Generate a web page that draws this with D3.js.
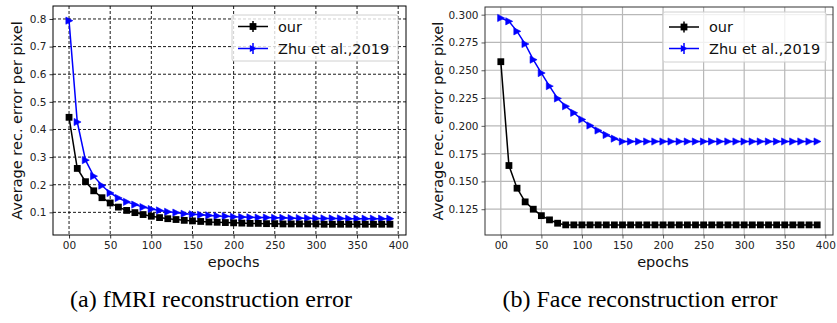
<!DOCTYPE html>
<html><head><meta charset="utf-8">
<script src="https://cdn.jsdelivr.net/npm/d3@7"></script>
<style>
html,body{margin:0;padding:0;background:#fff;}
svg{display:block;}
text{font-family:"DejaVu Sans",sans-serif;}
.cap{font-family:"Liberation Serif","Times New Roman",serif;}
</style></head>
<body>
<svg id="c" width="837" height="323"></svg>
<script>
const epochs = d3.range(0, 400, 10);
const xTicks = [0, 50, 100, 150, 200, 250, 300, 350, 400];
const xTickLabels = ["00", "50", "100", "150", "200", "250", "300", "350", "400"];

// (a) fMRI
const fmriOur = [0.444, 0.259, 0.211, 0.178, 0.153, 0.134, 0.119, 0.107, 0.099, 0.092,
  0.086, 0.081, 0.077, 0.074, 0.071, 0.069, 0.067, 0.065, 0.064, 0.063,
  0.062, 0.061, 0.060, 0.060, 0.059, 0.059, 0.058, 0.058, 0.058, 0.058,
  0.058, 0.057, 0.057, 0.057, 0.057, 0.057, 0.057, 0.057, 0.057, 0.057];
const fmriZhu = [0.794, 0.427, 0.289, 0.231, 0.197, 0.170, 0.152, 0.138, 0.128, 0.119,
  0.112, 0.107, 0.102, 0.099, 0.095, 0.093, 0.091, 0.089, 0.087, 0.086,
  0.084, 0.083, 0.082, 0.081, 0.081, 0.080, 0.080, 0.079, 0.079, 0.079,
  0.078, 0.078, 0.078, 0.078, 0.077, 0.077, 0.077, 0.077, 0.077, 0.077];
const fmriYTicks = [0.1, 0.2, 0.3, 0.4, 0.5, 0.6, 0.7, 0.8];
const fmriYLabels = ["0.1", "0.2", "0.3", "0.4", "0.5", "0.6", "0.7", "0.8"];

// (b) Face
const faceOur = [0.2577, 0.1643, 0.1439, 0.1316, 0.1250, 0.1192, 0.1154, 0.1124, 0.1109, 0.1109,
  0.1109, 0.1109, 0.1109, 0.1109, 0.1109, 0.1109, 0.1109, 0.1109, 0.1109, 0.1109,
  0.1109, 0.1109, 0.1109, 0.1109, 0.1109, 0.1109, 0.1109, 0.1109, 0.1109, 0.1109,
  0.1109, 0.1109, 0.1109, 0.1109, 0.1109, 0.1109, 0.1109, 0.1109, 0.1109, 0.1109];
const faceZhu = [0.2970, 0.2940, 0.2850, 0.2736, 0.2595, 0.2475, 0.2357, 0.2246, 0.2176, 0.2117,
  0.2057, 0.2003, 0.1958, 0.1918, 0.1885, 0.1859, 0.1859, 0.1859, 0.1859, 0.1859,
  0.1859, 0.1859, 0.1859, 0.1859, 0.1859, 0.1859, 0.1859, 0.1859, 0.1859, 0.1859,
  0.1859, 0.1859, 0.1859, 0.1859, 0.1859, 0.1859, 0.1859, 0.1859, 0.1859, 0.1859];
const faceYTicks = [0.125, 0.150, 0.175, 0.200, 0.225, 0.250, 0.275, 0.300];
const faceYLabels = ["0.125", "0.150", "0.175", "0.200", "0.225", "0.250", "0.275", "0.300"];

const seriesNames = ["our", "Zhu et al.,2019"];
const captions = ["(a) fMRI reconstruction error", "(b) Face reconstruction error"];
const yLabel = "Average rec. error per pixel";
const xLabel = "epochs";

const svg = d3.select("#c");

function panel(cfg) {
  const {left, right, top, bottom, yDomain, yTicks, yLabels, our, zhu, grid, legend, ylabX, spine} = cfg;
  const x = d3.scaleLinear().domain([-19.5, 409.5]).range([left, right]);
  const y = d3.scaleLinear().domain(yDomain).range([bottom, top]);
  const g = svg.append("g");

  // grid
  const gg = g.append("g");
  xTicks.forEach(t => gg.append("line").attr("x1", x(t)).attr("x2", x(t)).attr("y1", top).attr("y2", bottom)
    .attr("stroke", grid.color).attr("stroke-width", grid.w).attr("stroke-dasharray", grid.dash));
  yTicks.forEach(t => gg.append("line").attr("y1", y(t)).attr("y2", y(t)).attr("x1", left).attr("x2", right)
    .attr("stroke", grid.color).attr("stroke-width", grid.w).attr("stroke-dasharray", grid.dash));

  // axes
  const xa = g.append("g").attr("transform", `translate(0,${bottom})`)
    .call(d3.axisBottom(x).tickValues(xTicks).tickSize(3.5).tickPadding(3).tickFormat((d, i) => xTickLabels[i]));
  const ya = g.append("g").attr("transform", `translate(${left},0)`)
    .call(d3.axisLeft(y).tickValues(yTicks).tickSize(3.5).tickPadding(3).tickFormat((d, i) => yLabels[i]));
  [xa, ya].forEach(a => {
    a.select(".domain").remove();
    a.selectAll("line").attr("stroke", spine).attr("stroke-width", 0.8);
    a.selectAll("text").attr("font-family", "DejaVu Sans").attr("font-size", 10.5).attr("fill", "#222");
  });

  // lines + markers
  const line = d3.line().x((d, i) => x(epochs[i])).y(d => y(d));
  g.append("path").datum(zhu).attr("d", line).attr("fill", "none").attr("stroke", "#0000ff").attr("stroke-width", 1.5);
  g.append("path").datum(our).attr("d", line).attr("fill", "none").attr("stroke", "#000").attr("stroke-width", 1.5);

  const tri = "M-3.2,-3.6 L3.8,0 L-3.2,3.6 Z";
  g.append("g").selectAll("path").data(zhu).join("path")
    .attr("transform", (d, i) => `translate(${x(epochs[i])},${y(d)})`)
    .attr("d", tri).attr("fill", "#0000ff").attr("stroke", "#0000ff").attr("stroke-width", 0.6);
  g.append("g").selectAll("rect").data(our).join("rect")
    .attr("x", (d, i) => x(epochs[i]) - 3.4).attr("y", d => y(d) - 3.4)
    .attr("width", 6.8).attr("height", 6.8).attr("fill", "#000");

  // frame
  g.append("rect").attr("x", left).attr("y", top).attr("width", right - left).attr("height", bottom - top)
    .attr("fill", "none").attr("stroke", spine).attr("stroke-width", 1);

  // legend
  const lg = g.append("g");
  lg.append("rect").attr("x", legend.x).attr("y", legend.y).attr("width", legend.w).attr("height", legend.h)
    .attr("rx", 2).attr("fill", "rgba(255,255,255,0.8)").attr("stroke", "#d0d0d0").attr("stroke-width", 1);
  const entries = [{c: "#000", m: "sq"}, {c: "#0000ff", m: "tri"}];
  entries.forEach((e, i) => {
    const cy = legend.y + legend.row0 + i * legend.dy;
    const lx0 = legend.x + 6, lx1 = legend.x + 36, mx = (lx0 + lx1) / 2;
    lg.append("line").attr("x1", lx0).attr("x2", lx1).attr("y1", cy).attr("y2", cy).attr("stroke", e.c).attr("stroke-width", 1.5);
    lg.append("line").attr("x1", mx).attr("x2", mx).attr("y1", cy - 5.5).attr("y2", cy + 5.5).attr("stroke", e.c).attr("stroke-width", 1.5);
    if (e.m === "sq") lg.append("rect").attr("x", mx - 3.4).attr("y", cy - 3.4).attr("width", 6.8).attr("height", 6.8).attr("fill", e.c);
    else lg.append("path").attr("transform", `translate(${mx},${cy})`).attr("d", tri).attr("fill", e.c);
    lg.append("text").attr("x", legend.x + 46).attr("y", cy).attr("dy", "0.36em")
      .attr("font-size", 14.5).attr("fill", "#111").text(seriesNames[i]);
  });

  // labels
  g.append("text").attr("x", (x(0) + x(400)) / 2).attr("y", 267).attr("text-anchor", "middle")
    .attr("font-size", 14.5).attr("fill", "#111").text(xLabel);
  g.append("text").attr("transform", `translate(${ylabX},${(top + bottom) / 2}) rotate(-90)`)
    .attr("text-anchor", "middle").attr("dy", "0.36em").attr("font-size", 14.5).attr("fill", "#111").text(yLabel);
}

panel({left: 53, right: 406, top: 6, bottom: 235, yDomain: [0.018, 0.847],
  yTicks: fmriYTicks, yLabels: fmriYLabels, our: fmriOur, zhu: fmriZhu,
  grid: {color: "#000", w: 0.9, dash: "3,2"}, spine: "#000", ylabX: 17,
  legend: {x: 232, y: 15, w: 166, h: 46, row0: 11.5, dy: 22}});

panel({left: 485, right: 833, top: 7, bottom: 235, yDomain: [0.1018, 0.3069],
  yTicks: faceYTicks, yLabels: faceYLabels, our: faceOur, zhu: faceZhu,
  grid: {color: "#b8b8b8", w: 1.2, dash: null}, spine: "#333", ylabX: 438,
  legend: {x: 663, y: 12, w: 163, h: 50, row0: 15, dy: 21.5}});

svg.selectAll(".capt").data(captions).join("text").attr("class", "cap")
  .attr("x", (d, i) => i === 0 ? 211 : 640).attr("y", 307).attr("text-anchor", "middle")
  .attr("font-size", 24).attr("fill", "#000").text(d => d);
</script>
</body></html>
